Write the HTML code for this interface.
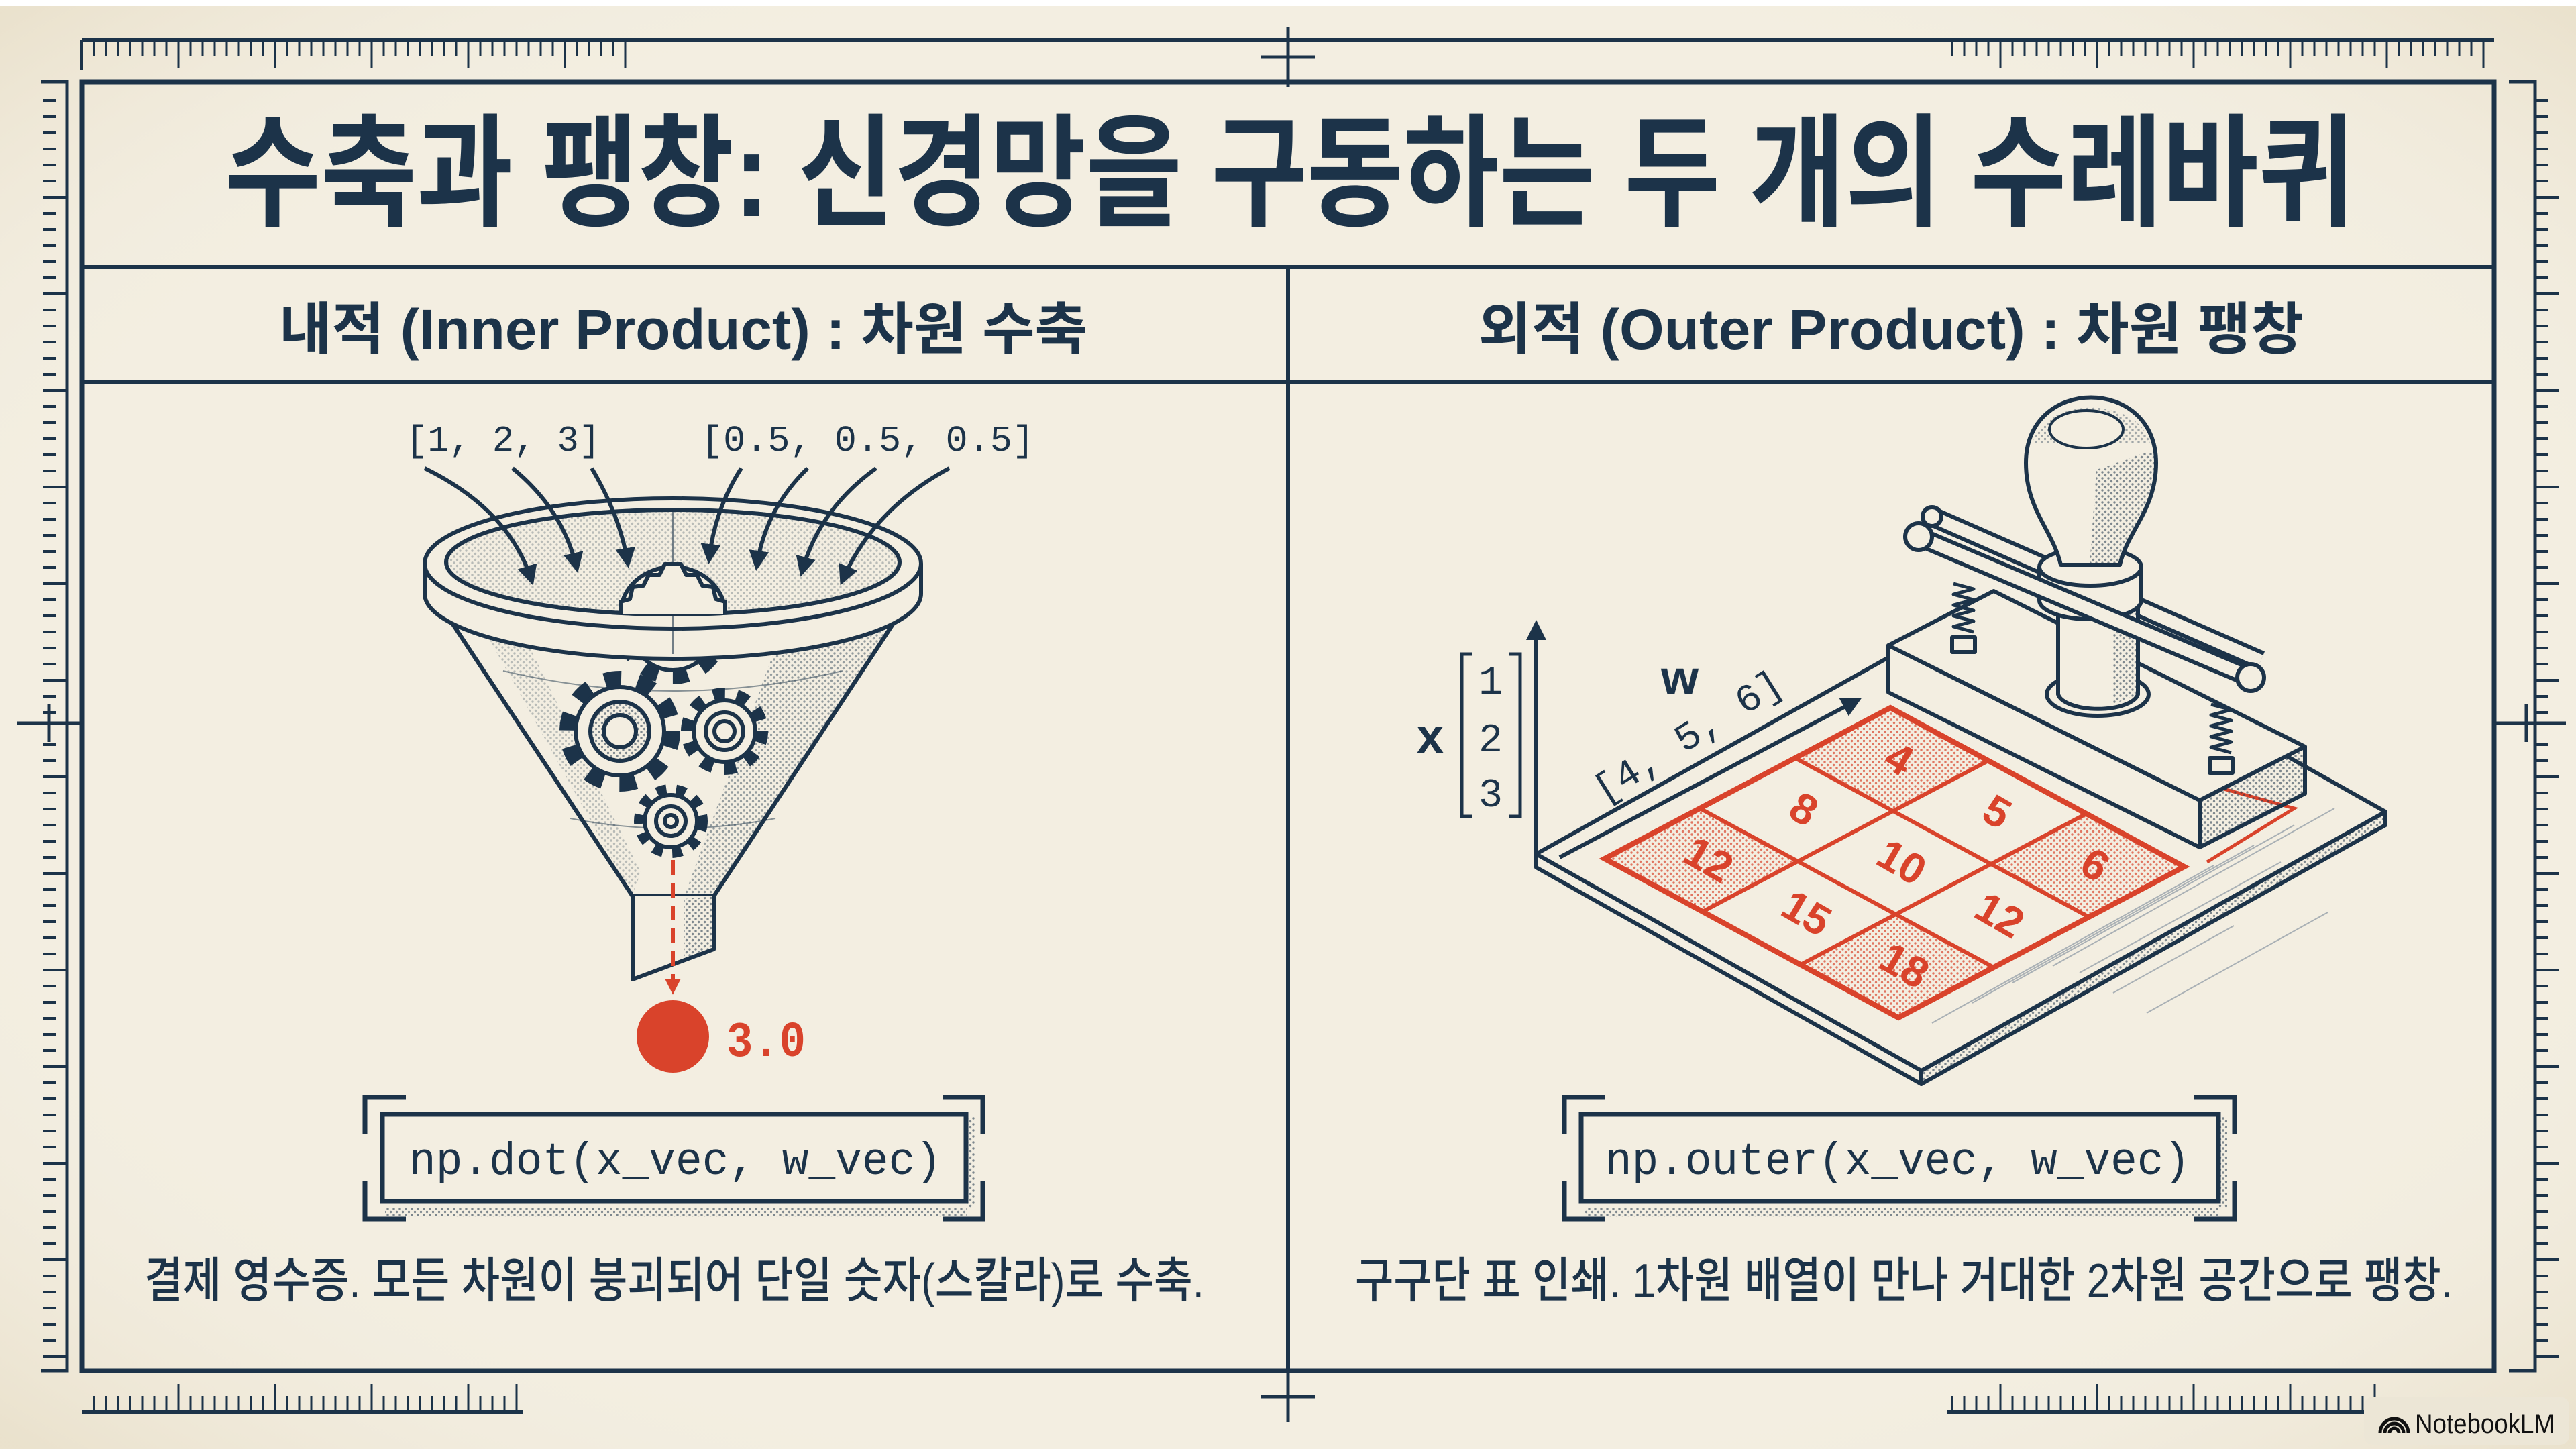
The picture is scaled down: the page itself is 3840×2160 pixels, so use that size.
<!DOCTYPE html>
<html><head><meta charset="utf-8"><style>
html,body{margin:0;padding:0;background:#f3eee1;}
svg{display:block}
.k{font-family:"Liberation Sans","Noto Sans CJK KR",sans-serif;font-weight:bold;fill:#1c3349}
.c{font-family:"Liberation Sans","Noto Sans CJK KR",sans-serif;fill:#1c3349}
.m{font-family:"Liberation Mono","DejaVu Sans Mono",monospace;fill:#1c3349}
</style></head><body>
<svg width="3840" height="2160" viewBox="0 0 3840 2160" xmlns="http://www.w3.org/2000/svg">
<defs>
<pattern id="dots" width="9" height="9" patternUnits="userSpaceOnUse"><circle cx="2" cy="2" r="1.7" fill="#1c3349" opacity=".55"/><circle cx="6.5" cy="6.5" r="1.7" fill="#1c3349" opacity=".55"/></pattern>
<pattern id="rdots" width="9" height="9" patternUnits="userSpaceOnUse"><circle cx="2" cy="2" r="1.7" fill="#d9432b" opacity=".7"/><circle cx="6.5" cy="6.5" r="1.7" fill="#d9432b" opacity=".7"/></pattern>
<marker id="ah" viewBox="0 0 10 10" refX="8" refY="5" markerWidth="5" markerHeight="5" orient="auto"><path d="M0,0 L10,5 L0,10 z" fill="#1c3349"/></marker>
<marker id="rah" viewBox="0 0 10 10" refX="8" refY="5" markerWidth="4" markerHeight="4" orient="auto"><path d="M0,0 L10,5 L0,10 z" fill="#d9432b"/></marker>
<radialGradient id="vig" cx="50%" cy="50%" r="70%"><stop offset="70%" stop-color="#f4efe3" stop-opacity="0"/><stop offset="100%" stop-color="#e6dcc4" stop-opacity=".7"/></radialGradient>
</defs>
<rect width="3840" height="2160" fill="#f3eee1"/>
<rect width="3840" height="2160" fill="url(#vig)"/>
<rect width="3840" height="9" fill="#ffffff"/>

<g stroke="#1c3349" fill="none">
<line x1="122" y1="59" x2="3718" y2="59" stroke-width="6"/>
<line x1="122" y1="59" x2="122" y2="105" stroke-width="4"/>
<path stroke-width="3" d="M140 62v22M158 62v22M176 62v22M194 62v22M212 62v22M230 62v22M248 62v22M266 62v40M284 62v22M302 62v22M320 62v22M338 62v22M356 62v22M374 62v22M392 62v22M410 62v40M428 62v22M446 62v22M464 62v22M482 62v22M500 62v22M518 62v22M536 62v22M554 62v40M572 62v22M590 62v22M608 62v22M626 62v22M644 62v22M662 62v22M680 62v22M698 62v40M716 62v22M734 62v22M752 62v22M770 62v22M788 62v22M806 62v22M824 62v22M842 62v40M860 62v22M878 62v22M896 62v22M914 62v22M932 62v40"/>
<path stroke-width="3" d="M2910 62v22M2928 62v22M2946 62v22M2964 62v22M2982 62v40M3000 62v22M3018 62v22M3036 62v22M3054 62v22M3072 62v22M3090 62v22M3108 62v22M3126 62v40M3144 62v22M3162 62v22M3180 62v22M3198 62v22M3216 62v22M3234 62v22M3252 62v22M3270 62v40M3288 62v22M3306 62v22M3324 62v22M3342 62v22M3360 62v22M3378 62v22M3396 62v22M3414 62v40M3432 62v22M3450 62v22M3468 62v22M3486 62v22M3504 62v22M3522 62v22M3540 62v22M3558 62v40M3576 62v22M3594 62v22M3612 62v22M3630 62v22M3648 62v22M3666 62v22M3684 62v22M3702 62v40"/>
<line x1="122" y1="2105" x2="780" y2="2105" stroke-width="6"/>
<line x1="2902" y1="2105" x2="3540" y2="2105" stroke-width="6"/>
<path stroke-width="3" d="M140 2103v-22M158 2103v-22M176 2103v-22M194 2103v-22M212 2103v-22M230 2103v-22M248 2103v-22M266 2103v-40M284 2103v-22M302 2103v-22M320 2103v-22M338 2103v-22M356 2103v-22M374 2103v-22M392 2103v-22M410 2103v-40M428 2103v-22M446 2103v-22M464 2103v-22M482 2103v-22M500 2103v-22M518 2103v-22M536 2103v-22M554 2103v-40M572 2103v-22M590 2103v-22M608 2103v-22M626 2103v-22M644 2103v-22M662 2103v-22M680 2103v-22M698 2103v-40M716 2103v-22M734 2103v-22M752 2103v-22M770 2103v-40"/>
<path stroke-width="3" d="M2910 2103v-22M2928 2103v-22M2946 2103v-22M2964 2103v-22M2982 2103v-40M3000 2103v-22M3018 2103v-22M3036 2103v-22M3054 2103v-22M3072 2103v-22M3090 2103v-22M3108 2103v-22M3126 2103v-40M3144 2103v-22M3162 2103v-22M3180 2103v-22M3198 2103v-22M3216 2103v-22M3234 2103v-22M3252 2103v-22M3270 2103v-40M3288 2103v-22M3306 2103v-22M3324 2103v-22M3342 2103v-22M3360 2103v-22M3378 2103v-22M3396 2103v-22M3414 2103v-40M3432 2103v-22M3450 2103v-22M3468 2103v-22M3486 2103v-22M3504 2103v-22M3522 2103v-22M3540 2103v-40"/>
<path stroke-width="5" d="M61 122H100V2043H61"/>
<path stroke-width="5" d="M3740 122H3779V2043H3740"/>
<path id="lt" stroke-width="4" d="M64 150h20M64 174h20M64 198h20M64 222h20M64 246h20M64 270h20M64 294h36M64 318h20M64 342h20M64 366h20M64 390h20M64 414h20M64 438h36M64 462h20M64 486h20M64 510h20M64 534h20M64 558h20M64 582h36M64 606h20M64 630h20M64 654h20M64 678h20M64 702h20M64 726h36M64 750h20M64 774h20M64 798h20M64 822h20M64 846h20M64 870h36M64 894h20M64 918h20M64 942h20M64 966h20M64 990h20M64 1014h36M64 1038h20M64 1062h20M64 1110h20M64 1134h20M64 1158h36M64 1182h20M64 1206h20M64 1230h20M64 1254h20M64 1278h20M64 1302h36M64 1326h20M64 1350h20M64 1374h20M64 1398h20M64 1422h20M64 1446h36M64 1470h20M64 1494h20M64 1518h20M64 1542h20M64 1566h20M64 1590h36M64 1614h20M64 1638h20M64 1662h20M64 1686h20M64 1710h20M64 1734h36M64 1758h20M64 1782h20M64 1806h20M64 1830h20M64 1854h20M64 1878h36M64 1902h20M64 1926h20M64 1950h20M64 1974h20M64 1998h20M64 2022h36"/>
<use href="#lt" transform="translate(3715,0)"/>
<path stroke-width="5" d="M1920 40v90M1880 85h80"/>
<path stroke-width="5" d="M1920 2040v80M1880 2082h80"/>
<path stroke-width="5" d="M25 1078h100M73 1050v56"/>
<path stroke-width="5" d="M3715 1078h110M3766 1050v56"/>
<rect x="122" y="122" width="3596" height="1921" stroke-width="7"/>
<line x1="122" y1="398" x2="3718" y2="398" stroke-width="6"/>
<line x1="122" y1="570" x2="3718" y2="570" stroke-width="6"/>
<line x1="1920" y1="398" x2="1920" y2="2043" stroke-width="6"/>
</g>

<text class="k" x="335" y="322" font-size="182" textLength="3175" lengthAdjust="spacingAndGlyphs">수축과 팽창: 신경망을 구동하는 두 개의 수레바퀴</text>
<text class="k" x="416" y="520" font-size="84" textLength="1205" lengthAdjust="spacingAndGlyphs">내적 (Inner Product) : 차원 수축</text>
<text class="k" x="2204" y="520" font-size="84" textLength="1230" lengthAdjust="spacingAndGlyphs">외적 (Outer Product) : 차원 팽창</text>

<text class="m" x="605" y="672" font-size="55" textLength="290" lengthAdjust="spacingAndGlyphs">[1, 2, 3]</text>
<text class="m" x="1045" y="672" font-size="55" textLength="497" lengthAdjust="spacingAndGlyphs">[0.5, 0.5, 0.5]</text>

<g stroke="#1c3349" stroke-width="6" fill="none" stroke-linejoin="round">
<path d="M645 885 L943 1336 L1064 1336 L1361 885 Z" fill="#f3eee1"/>
<path d="M1180 900 L1361 885 L1064 1336 L1020 1336 Z" fill="url(#dots)" stroke="none" opacity=".8"/>
<path d="M700 900 L760 905 L955 1300 L943 1336 Z" fill="url(#dots)" stroke="none" opacity=".5"/>
<path d="M645 885 L943 1336 M1361 885 L1064 1336"/>
<path d="M750 1000 Q1003 1060 1256 1000" stroke-width="2" opacity=".5"/>
<path d="M850 1220 Q1003 1250 1156 1220" stroke-width="2" opacity=".5"/>
<path d="M943 1336 L943 1460 L1064 1415 L1064 1336" fill="#f3eee1"/>
<path d="M1020 1340 L1064 1336 L1064 1415 L1020 1432 Z" fill="url(#dots)" stroke="none"/>
<g>
<circle cx="1003" cy="937" r="70" stroke-width="26" stroke-dasharray="22 22" fill="none"/>
<circle cx="1003" cy="937" r="62" fill="#f3eee1"/>
<circle cx="1003" cy="937" r="30"/>
<circle cx="924" cy="1090" r="76" stroke-width="28" stroke-dasharray="24 24"/>
<circle cx="924" cy="1090" r="66" fill="#f3eee1"/>
<circle cx="924" cy="1090" r="44" fill="url(#dots)"/>
<circle cx="924" cy="1090" r="24" fill="#f3eee1"/>
<circle cx="1080" cy="1090" r="54" stroke-width="22" stroke-dasharray="17 17"/>
<circle cx="1080" cy="1090" r="46" fill="#f3eee1"/>
<circle cx="1080" cy="1090" r="28"/>
<circle cx="1080" cy="1090" r="15"/>
<circle cx="1000" cy="1224" r="46" stroke-width="18" stroke-dasharray="14 14"/>
<circle cx="1000" cy="1224" r="39" fill="#f3eee1"/>
<circle cx="1000" cy="1224" r="22"/>
<circle cx="1000" cy="1224" r="9"/>
</g>
<path d="M633 840 L633 885 A370 97 0 0 0 1373 885 L1373 840" fill="#f3eee1"/>
<ellipse cx="1003" cy="840" rx="370" ry="97" fill="#f3eee1"/>
<ellipse cx="1003" cy="838" rx="338" ry="78" fill="url(#dots)" opacity=".5"/>
<ellipse cx="1003" cy="838" rx="338" ry="78"/>
<path d="M1003 760 L1003 975" stroke-width="2" opacity=".6"/>
<path d="M925 915 a78 70 0 0 1 156 0" fill="#f3eee1"/>
<path d="M925 915 l0 -18 l14 -4 l4 -18 l16 -2 l8 -16 l16 0 l8 -16 l24 0 l8 16 l16 0 l8 16 l16 2 l4 18 l14 4 l0 18" fill="#f3eee1"/>
</g>
<g stroke="#1c3349" stroke-width="6" fill="none" marker-end="url(#ah)">
<path d="M633 698 Q760 760 793 867"/>
<path d="M764 698 Q840 760 860 848"/>
<path d="M882 698 Q925 770 936 841"/>
<path d="M1105 698 Q1065 760 1057 835"/>
<path d="M1204 698 Q1140 760 1128 845"/>
<path d="M1306 698 Q1220 760 1195 854"/>
<path d="M1415 698 Q1300 760 1255 867"/>
</g>
<line x1="1003" y1="1282" x2="1003" y2="1478" stroke="#d9432b" stroke-width="6" stroke-dasharray="22 12" marker-end="url(#rah)"/>
<circle cx="1003" cy="1545" r="54" fill="#d9432b"/>
<text x="1083" y="1574" font-family="Liberation Mono,monospace" font-weight="bold" font-size="74" fill="#d9432b" textLength="118" lengthAdjust="spacingAndGlyphs">3.0</text>

<g stroke="#1c3349" fill="none">
<path d="M544 1690V1636H605M1405 1636H1465V1690M1465 1760V1817H1405M605 1817H544V1760" stroke-width="7"/>
<rect x="574" y="1800" width="868" height="14" fill="url(#dots)" stroke="none"/>
<rect x="1440" y="1665" width="14" height="135" fill="url(#dots)" stroke="none"/>
<rect x="570" y="1661" width="870" height="130" stroke-width="7" fill="#f3eee1"/>
<path d="M2332 1690V1636H2393M3271 1636H3331V1690M3331 1760V1817H3271M2393 1817H2332V1760" stroke-width="7"/>
<rect x="2362" y="1800" width="944" height="14" fill="url(#dots)" stroke="none"/>
<rect x="3306" y="1665" width="14" height="135" fill="url(#dots)" stroke="none"/>
<rect x="2357" y="1661" width="950" height="130" stroke-width="7" fill="#f3eee1"/>
</g>
<text class="m" x="610" y="1750" font-size="68" textLength="794" lengthAdjust="spacingAndGlyphs">np.dot(x_vec, w_vec)</text>
<text class="m" x="2393" y="1750" font-size="68" textLength="872" lengthAdjust="spacingAndGlyphs">np.outer(x_vec, w_vec)</text>

<text class="c" x="215" y="1934" font-size="72" textLength="1580" lengthAdjust="spacingAndGlyphs" font-weight="500">결제 영수증. 모든 차원이 붕괴되어 단일 숫자(스칼라)로 수축.</text>
<text class="c" x="2020" y="1934" font-size="72" textLength="1636" lengthAdjust="spacingAndGlyphs" font-weight="500">구구단 표 인쇄. 1차원 배열이 만나 거대한 2차원 공간으로 팽창.</text>

<g stroke="#1c3349" stroke-width="6" fill="none" stroke-linejoin="round">
<path d="M2290 1273 L2864 1596 L2864 1616 L2290 1293 Z" fill="#f3eee1"/>
<path d="M2864 1596 L3556 1210 L3556 1230 L2864 1616 Z" fill="url(#dots)"/>
<path d="M2290 1273 L2982 887 L3556 1210 L2864 1596 Z" fill="#f3eee1"/>
</g>
<g stroke="#8a97a3" stroke-width="2" opacity=".7">
<path d="M3300 1290 L2880 1525 M3360 1260 L2940 1495 M3420 1230 L3000 1465 M3480 1205 L3060 1440"/>
<path d="M3150 1480 L3330 1380 M3100 1450 L3400 1285 M3200 1510 L3470 1360"/>
</g>
<g>
<path d="M2818 1055 L2676 1130 L2822 1209 L2964 1134 Z" fill="url(#rdots)"/>
<path d="M2534 1205 L2392 1280 L2538 1359 L2680 1284 Z" fill="url(#rdots)"/>
<path d="M3110 1213 L2968 1288 L3114 1367 L3256 1292 Z" fill="url(#rdots)"/>
<path d="M2826 1363 L2684 1438 L2830 1517 L2972 1442 Z" fill="url(#rdots)"/>
<g stroke="#d9432b" fill="none">
<path d="M2818 1055 L2392 1280 L2830 1517 L3256 1292 Z" stroke-width="8"/>
<path stroke-width="6" d="M2676 1130 L3114 1367 M2534 1205 L2972 1442 M2964 1134 L2538 1359 M3110 1213 L2684 1438"/>
<path d="M2840 1045 L3420 1205 L3290 1285" stroke-width="5"/>
</g>
<g font-family="Liberation Sans,sans-serif" font-weight="bold" font-size="64" fill="#d9432b" text-anchor="middle">
<text transform="translate(2820,1150) rotate(30)">4</text>
<text transform="translate(2678,1225) rotate(30)">8</text>
<text transform="translate(2536,1300) rotate(30)">12</text>
<text transform="translate(2966,1229) rotate(30)">5</text>
<text transform="translate(2824,1304) rotate(30)">10</text>
<text transform="translate(2682,1380) rotate(30)">15</text>
<text transform="translate(3112,1308) rotate(30)">6</text>
<text transform="translate(2970,1383) rotate(30)">12</text>
<text transform="translate(2828,1458) rotate(30)">18</text>
</g>
</g>
<g stroke="#1c3349" stroke-width="6" fill="none" marker-end="url(#ah)">
<line x1="2290" y1="1273" x2="2290" y2="930"/>
<line x1="2325" y1="1278" x2="2770" y2="1043"/>
</g>
<path d="M2195 975h-16v242h16M2250 975h16v242h-16" stroke="#1c3349" stroke-width="5" fill="none"/>
<text class="m" x="2222" y="1034" font-size="60" text-anchor="middle">1</text>
<text class="m" x="2222" y="1120" font-size="60" text-anchor="middle">2</text>
<text class="m" x="2222" y="1202" font-size="60" text-anchor="middle">3</text>
<text class="k" x="2132" y="1122" font-size="72" text-anchor="middle">x</text>
<text class="k" x="2504" y="1035" font-size="72" text-anchor="middle">w</text>
<text class="m" font-size="58" transform="translate(2390,1198) rotate(-32)" textLength="320" lengthAdjust="spacingAndGlyphs">[4, 5, 6]</text>

<g stroke="#1c3349" stroke-width="6" fill="none" stroke-linejoin="round">
<path d="M2815 962 L3279 1193 L3279 1263 L2815 1032 Z" fill="#f3eee1"/>
<path d="M3279 1193 L3436 1113 L3436 1183 L3279 1263 Z" fill="url(#dots)"/>
<path d="M2815 962 L2972 881 L3436 1113 L3279 1193 Z" fill="#f3eee1"/>
<path d="M2912 870 l30 8 l-30 8 l30 8 l-30 8 l30 8 l-30 8 l30 8 l-30 8 l30 8" stroke-width="5"/>
<rect x="2910" y="950" width="34" height="22" fill="#f3eee1"/>
<path d="M3296 1050 l30 8 l-30 8 l30 8 l-30 8 l30 8 l-30 8 l30 8 l-30 8 l30 8" stroke-width="5"/>
<rect x="3294" y="1130" width="34" height="22" fill="#f3eee1"/>
<path d="M2880 770 L3370 985" stroke-width="30"/>
<path d="M2880 770 L3370 985" stroke="#f3eee1" stroke-width="18"/>
<ellipse cx="3127" cy="1035" rx="76" ry="32" fill="#f3eee1"/>
<path d="M3068 880 L3068 1035 A60 25 0 0 0 3187 1035 L3187 880" fill="#f3eee1"/>
<path d="M3150 880 L3187 880 L3187 1035 L3150 1050 Z" fill="url(#dots)" stroke="none"/>
<path d="M3040 845 L3040 895 A76 28 0 0 0 3192 895 L3192 845" fill="#f3eee1"/>
<ellipse cx="3116" cy="845" rx="76" ry="28" fill="#f3eee1"/>
<path d="M3072 842 C3060 790 3020 760 3020 690 C3020 560 3214 560 3214 690 C3214 760 3172 790 3160 842 Z" fill="#f3eee1"/>
<path d="M3125 700 C3190 680 3214 660 3214 690 C3214 760 3172 790 3160 842 L3115 842 Z" fill="url(#dots)" stroke="none"/>
<path d="M3030 660 C3050 590 3185 590 3205 660" fill="url(#dots)" stroke="none" opacity=".7"/>
<ellipse cx="3110" cy="640" rx="55" ry="28" fill="#f3eee1" stroke-width="4"/>
<path d="M2860 800 L3355 1010" stroke-width="30"/>
<path d="M2860 800 L3355 1010" stroke="#f3eee1" stroke-width="18"/>
<circle cx="2860" cy="800" r="20" fill="#f3eee1"/>
<circle cx="3355" cy="1010" r="20" fill="#f3eee1"/>
<circle cx="2880" cy="770" r="14" fill="#f3eee1"/>
</g>

<rect x="3524" y="2082" width="306" height="72" rx="14" fill="#ece6d6"/>
<path d="M3555 2136 a14 14 0 0 1 28 0 M3548 2136 a21 21 0 0 1 42 0 M3562 2136 a7 7 0 0 1 14 0" stroke="#111" stroke-width="5" fill="none"/>
<text x="3600" y="2136" font-family="Liberation Sans,sans-serif" font-size="40" fill="#111" textLength="208" lengthAdjust="spacingAndGlyphs">NotebookLM</text>
</svg>
</body></html>
